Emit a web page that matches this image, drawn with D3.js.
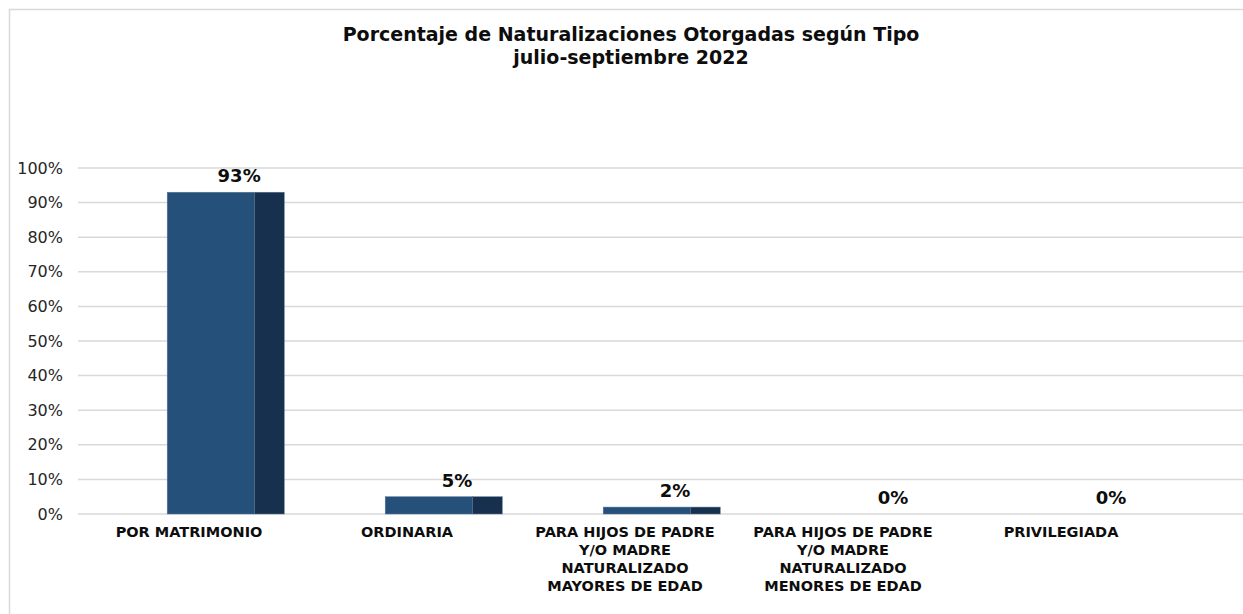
<!DOCTYPE html>
<html>
<head>
<meta charset="utf-8">
<script src="https://cdn.jsdelivr.net/npm/d3@7"></script>
<style>
  body { margin: 0; background: #fff; }
  text { font-family: "DejaVu Sans", Verdana, sans-serif; }
</style>
</head>
<body>
<div id="chart"></div>
<script>
// Data
const categories = [
    ["POR MATRIMONIO"],
    ["ORDINARIA"],
    ["PARA HIJOS DE PADRE", "Y/O MADRE", "NATURALIZADO", "MAYORES DE EDAD"],
    ["PARA HIJOS DE PADRE", "Y/O MADRE", "NATURALIZADO", "MENORES DE EDAD"],
    ["PRIVILEGIADA"]
];
const values = [0.93, 0.05, 0.02, 0.00, 0.00];
const yTicks = [0, 0.1, 0.2, 0.3, 0.4, 0.5, 0.6, 0.7, 0.8, 0.9, 1.0];
const titleLines = ["Porcentaje de Naturalizaciones Otorgadas según Tipo", "julio-septiembre 2022"];

const W = 1243, H = 614;

const svg = d3.select("#chart")
    .append("svg")
    .attr("width", W)
    .attr("height", H);

// chart border (runs off the right and bottom edge)
svg.append("rect")
    .attr("x", 9.5).attr("y", 9.5)
    .attr("width", W + 20).attr("height", H + 20)
    .attr("fill", "#fff")
    .attr("stroke", "#d9d9d9")
    .attr("stroke-width", 1.5);

// Scales
const y = d3.scaleLinear().domain([0, 1]).range([514, 168]);
const keys = categories.map((d, i) => i);
const x = d3.scaleBand().domain(keys).range([80, 1170]).padding(0);
const bw = x.bandwidth();

// Gridlines
svg.append("g")
    .selectAll("line")
    .data(yTicks)
    .join("line")
    .attr("x1", 78).attr("x2", W)
    .attr("y1", d => y(d)).attr("y2", d => y(d))
    .attr("stroke", "#d9d9d9")
    .attr("stroke-width", 1.5);

// Y axis labels
const yAxis = svg.append("g")
    .attr("transform", "translate(70,0)")
    .call(d3.axisLeft(y).tickValues(yTicks).tickFormat(d3.format(".0%")).tickSize(0).tickPadding(7));
yAxis.select(".domain").remove();
yAxis.selectAll("text")
    .attr("font-family", "DejaVu Sans, Verdana, sans-serif")
    .attr("font-size", 16)
    .attr("fill", "#262626");

// Bars: front face + darker side face
const bars = svg.append("g")
    .selectAll("g")
    .data(values)
    .join("g")
    .attr("transform", (d, i) => `translate(${x(i) + bw / 2},0)`);

bars.filter(d => d > 0).append("rect")
    .attr("x", -0.1 * bw)
    .attr("width", 0.4 * bw)
    .attr("y", d => y(d))
    .attr("height", d => y(0) - y(d))
    .attr("fill", "#24507a")
    .attr("stroke", "#5c7a99")
    .attr("stroke-width", 0.5);

bars.filter(d => d > 0).append("rect")
    .attr("x", 0.3 * bw)
    .attr("width", 0.137 * bw)
    .attr("y", d => y(d))
    .attr("height", d => y(0) - y(d))
    .attr("fill", "#17304e")
    .attr("stroke", "#5c7a99")
    .attr("stroke-width", 0.5);

// Value labels
bars.append("text")
    .attr("x", 0.23 * bw)
    .attr("y", d => y(d) - 10)
    .attr("text-anchor", "middle")
    .attr("font-size", 18)
    .attr("font-weight", "bold")
    .attr("fill", "#0d0d0d")
    .text(d => d3.format(".0%")(d));

// Category labels
const cat = svg.append("g")
    .selectAll("text")
    .data(categories)
    .join("text")
    .attr("text-anchor", "middle")
    .attr("font-size", 14.5)
    .attr("font-weight", "bold")
    .attr("fill", "#0d0d0d")
    .attr("transform", (d, i) => `translate(${x(i) + bw / 2},537)`);
cat.selectAll("tspan")
    .data(d => d)
    .join("tspan")
    .attr("x", 0)
    .attr("dy", (d, j) => j === 0 ? 0 : 18)
    .text(d => d);

// Title
svg.append("text")
    .attr("text-anchor", "middle")
    .attr("font-size", 19)
    .attr("font-weight", "bold")
    .attr("fill", "#0d0d0d")
    .selectAll("tspan")
    .data(titleLines)
    .join("tspan")
    .attr("x", 631)
    .attr("y", (d, i) => 41 + i * 23)
    .text(d => d);
</script>
</body>
</html>
